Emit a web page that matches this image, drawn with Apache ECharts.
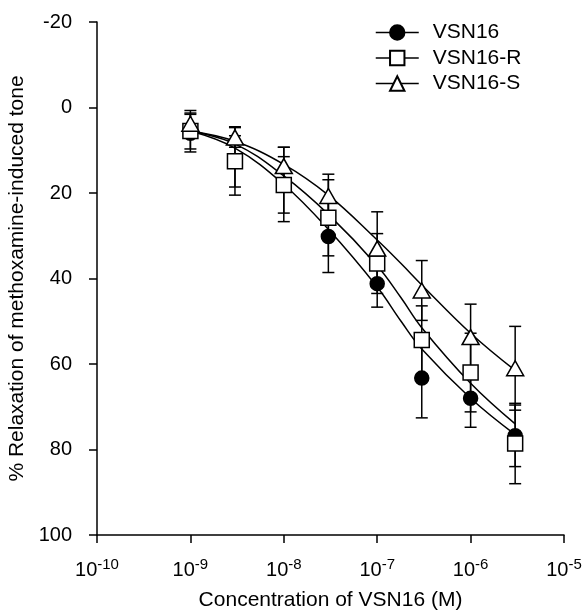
<!DOCTYPE html>
<html>
<head>
<meta charset="utf-8">
<script src="https://cdn.jsdelivr.net/npm/echarts@6.0.0/dist/echarts.min.js"></script>
<style>
  html, body { margin: 0; padding: 0; background: #fff; }
  #chart { width: 584px; height: 611px; }
</style>
</head>
<body>
<div id="chart"></div>
<script>
// concentrations (M)
var concentrations = [1e-9, 3e-9, 1e-8, 3e-8, 1e-7, 3e-7, 1e-6, 3e-6];

// mean % relaxation and SEM
var vsn16 = [6, 12.5, 18, 30.2, 41.2, 63.3, 68, 76.8];
var vsn16Err = [4.4, 8, 8.7, 8.4, 5.5, 9.3, 6.8, 7.2];
var vsn16R = [5.5, 12.6, 18.1, 25.8, 36.5, 54.4, 62, 78.6];
var vsn16RErr = [4.2, 6, 6.6, 8.9, 7, 8, 9.2, 9.4];
var vsn16S = [3.8, 7, 13.7, 20.7, 33, 42.8, 53.7, 61];
var vsn16SErr = [3.1, 2.3, 4.4, 5.1, 8.6, 7, 7.7, 9.8];

// fitted curves at these concentrations
var fitConc = [1e-9, 3e-9, 1e-8, 3e-8, 1e-7, 1.8e-7, 3e-7, 1e-6, 3e-6];
var fitVSN16 = [5.5, 9.5, 18, 28.5, 42, 50, 56.5, 68, 76.5];
var fitVSN16R = [5.5, 8.5, 16, 25, 37, 44.5, 51.5, 64.5, 74];
var fitVSN16S = [5.5, 7.9, 13.3, 20.5, 31, 36.5, 41.5, 52.8, 61.5];

var FONT = "'Liberation Sans', Arial, Helvetica, sans-serif";

function pairs(xs, vals) {
  return xs.map(function (c, i) { return [c, vals[i]]; });
}
function triples(vals, errs) {
  return concentrations.map(function (c, i) { return [c, vals[i], errs[i]]; });
}

function renderErr(params, api) {
  var x = api.value(0), y = api.value(1), e = api.value(2);
  var top = api.coord([x, y - e]);
  var bot = api.coord([x, y + e]);
  var hw = 6;
  var st = { stroke: '#000', lineWidth: 1.5 };
  return {
    type: 'group',
    children: [
      { type: 'line', shape: { x1: top[0], y1: top[1], x2: bot[0], y2: bot[1] }, style: st },
      { type: 'line', shape: { x1: top[0] - hw, y1: top[1], x2: top[0] + hw, y2: top[1] }, style: st },
      { type: 'line', shape: { x1: bot[0] - hw, y1: bot[1], x2: bot[0] + hw, y2: bot[1] }, style: st }
    ]
  };
}

function fitSeries(name, vals) {
  return {
    name: name,
    type: 'line',
    data: pairs(fitConc, vals),
    smooth: 0.4,
    showSymbol: false,
    silent: true,
    z: 1,
    lineStyle: { color: '#000', width: 1.5 }
  };
}

function errSeries(vals, errs) {
  return {
    type: 'custom',
    data: triples(vals, errs),
    encode: { x: 0, y: 1 },
    renderItem: renderErr,
    silent: true,
    z: 2
  };
}

function pointSeries(name, vals, symbol, size, fill, z) {
  return {
    name: name,
    type: 'line',
    data: pairs(concentrations, vals),
    symbol: symbol,
    symbolSize: size,
    showAllSymbol: true,
    z: z,
    lineStyle: { opacity: 0, width: 0 },
    itemStyle: { color: fill, borderColor: '#000', borderWidth: 1.5, opacity: 1 }
  };
}

var chart = echarts.init(document.getElementById('chart'));

chart.setOption({
  animation: false,
  backgroundColor: '#fff',
  textStyle: { fontFamily: FONT, color: '#000' },
  grid: { left: 97, right: 20, top: 22, bottom: 76, outerBoundsMode: 'none' },
  legend: {
    data: ['VSN16', 'VSN16-R', 'VSN16-S'],
    orient: 'vertical',
    left: 375,
    top: 22,
    padding: 0,
    itemWidth: 43,
    itemHeight: 18,
    itemGap: 4.5,
    lineStyle: { color: '#000', width: 1.5, opacity: 1 },
    textStyle: { fontFamily: FONT, fontSize: 21, color: '#000', padding: [0, 0, 0, 9] }
  },
  xAxis: {
    type: 'log',
    logBase: 10,
    min: 1e-10,
    max: 1e-5,
    name: 'Concentration of VSN16 (M)',
    nameLocation: 'middle',
    nameGap: 55,
    nameTextStyle: { fontFamily: FONT, fontSize: 21, color: '#000' },
    axisLine: { onZero: false, lineStyle: { color: '#000', width: 1.5 } },
    axisTick: { length: 8, lineStyle: { color: '#000', width: 1.5 } },
    splitLine: { show: false },
    axisLabel: {
      margin: 22,
      formatter: function (v) {
        var p = Math.round(Math.log10(v));
        return '{b|10}{s|' + p + '}';
      },
      rich: {
        b: { fontFamily: FONT, fontSize: 20, color: '#000' },
        s: { fontFamily: FONT, fontSize: 15, color: '#000', verticalAlign: 'top', padding: [0, 0, 12, 0] }
      }
    }
  },
  yAxis: {
    type: 'value',
    inverse: true,
    min: -20,
    max: 100,
    interval: 20,
    name: '% Relaxation of methoxamine-induced tone',
    nameLocation: 'middle',
    nameGap: 67,
    nameTextStyle: { fontFamily: FONT, fontSize: 21, color: '#000' },
    axisLine: { show: true, onZero: false, lineStyle: { color: '#000', width: 1.5 } },
    axisTick: { show: true, length: 8, lineStyle: { color: '#000', width: 1.5 } },
    splitLine: { show: false },
    axisLabel: { margin: 25, fontFamily: FONT, fontSize: 20, color: '#000' }
  },
  series: [
    fitSeries('fit VSN16', fitVSN16),
    fitSeries('fit VSN16-R', fitVSN16R),
    fitSeries('fit VSN16-S', fitVSN16S),
    errSeries(vsn16, vsn16Err),
    errSeries(vsn16R, vsn16RErr),
    errSeries(vsn16S, vsn16SErr),
    pointSeries('VSN16', vsn16, 'circle', 14, '#000', 3),
    pointSeries('VSN16-R', vsn16R, 'rect', 15, '#fff', 4),
    pointSeries('VSN16-S', vsn16S, 'triangle', [17, 15], '#fff', 5)
  ]
});
</script>
</body>
</html>
